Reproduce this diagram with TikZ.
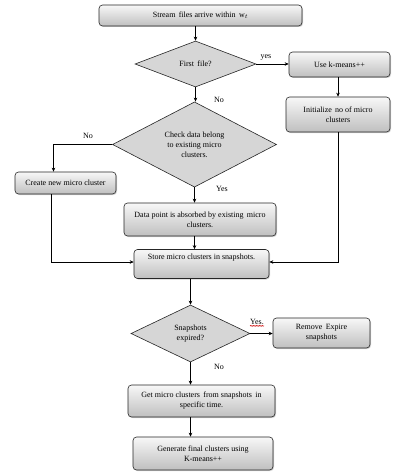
\documentclass[tikz,border=0pt]{standalone}
\usepackage{fontspec}
\setmainfont{Liberation Serif}
\usetikzlibrary{shapes.geometric,arrows.meta,shadows,calc,decorations.pathmorphing}
\begin{document}
\begin{tikzpicture}[x=1pt,y=-1pt,
  every node/.style={font=\rmfamily\fontsize{8}{10}\selectfont},
  box/.style={draw=black!85, line width=0.6pt, rounded corners=3.5pt,
    top color=gray!6, bottom color=gray!50,
    drop shadow={shadow xshift=1pt,shadow yshift=-1pt,opacity=0.35},
    align=center, inner sep=2pt},
  dia/.style={draw=black!85, line width=0.6pt, diamond, fill=gray!32,
    align=center, inner sep=0pt},
  arr/.style={draw=black, line width=0.6pt, -{Stealth[length=4pt,width=3.5pt]}},
  lbl/.style={inner sep=0pt},
  squig/.style={draw=red!80!black, line width=0.4pt, decorate,
    decoration={zigzag,amplitude=0.5pt,segment length=1.5pt}}
]
\useasboundingbox (0,0) rectangle (407,476);

% boxes
\node[box, minimum width=203pt, minimum height=21pt] (b1) at (200.5,15.5)
  {Stream\, files arrive within\, w$_t$};
\node[box, minimum width=101pt, minimum height=25pt] (bk) at (339.5,64.5) {Use k-means++};
\node[box, minimum width=104pt, minimum height=35pt] (bi) at (338,114.5)
  {Initialize\, no of micro\\clusters};
\node[box, minimum width=101pt, minimum height=22pt] (bc) at (65.5,183) {Create new micro cluster};
\node[box, minimum width=152pt, minimum height=33pt] (bd) at (200,219.5)
  {Data point is absorbed by existing\, micro\\clusters.};
\node[box, minimum width=135pt, text height=8pt, text depth=17pt] (bs) at (201.5,264)
  {Store micro clusters in snapshots.};
\node[box, minimum width=97pt, minimum height=30pt] (br) at (321.5,333)
  {Remove\, Expire\\snapshots};
\node[box, minimum width=147pt, minimum height=32pt] (bg) at (201.5,401)
  {Get micro clusters\, from snapshots\, in\\specific time.};
\node[box, minimum width=140pt, minimum height=33pt] (bf) at (203,453.5)
  {Generate final clusters using\\K-means++};

% diamonds
\node[dia, minimum width=121pt, minimum height=46pt] (d1) at (195.5,64) {First\, file?};
\node[dia, minimum width=164pt, minimum height=81pt] (d2) at (194.5,144.5)
  {Check data belong\\to existing micro\\clusters.};
\node[dia, minimum width=119pt, minimum height=57pt] (d3) at (190.5,333.5)
  {Snapshots\\expired?};

% connectors
\draw[arr] (b1.south -| d1.north) -- (d1.north);
\draw[arr] (d1.east) -- (d1.east -| bk.west);
\draw[arr] (bk.south -| bi.north) -- (bi.north);
\draw[arr] (d1.south) -- (d1.south |- d2.north);
\draw[arr] (d2.west) -| ([xshift=-12pt]bc.north);
\draw[arr] (d2.south) -- (d2.south |- bd.north);
\draw[arr] (d2.south |- bd.south) -- (d2.south |- bs.north);
\draw[arr] ([xshift=-14pt]bc.south) |- ([yshift=2pt]bs.west);
\draw[arr] (bi.south) |- ([yshift=2pt]bs.east);
\draw[arr] (d3.north |- bs.south) -- (d3.north);
\draw[arr] (d3.east) -- (d3.east -| br.west);
\draw[arr] (d3.south) -- (d3.south |- bg.north);
\draw[arr] (d3.south |- bg.south) -- (d3.south |- bf.north);

% labels
\node[lbl] (ly1) at (266,57) {yes};
\node[lbl] (ln1) at (219,100) {No};
\node[lbl] (ln2) at (88,136) {No};
\node[lbl] (ly2) at (222,189) {Yes};
\node[lbl] (ly3) at (257,322) {Yes.};
\node[lbl] (ln3) at (219,367) {No};
\draw[squig] ([yshift=-1pt]ly3.south west) -- ([yshift=-1pt]ly3.south east);
\end{tikzpicture}
\end{document}
